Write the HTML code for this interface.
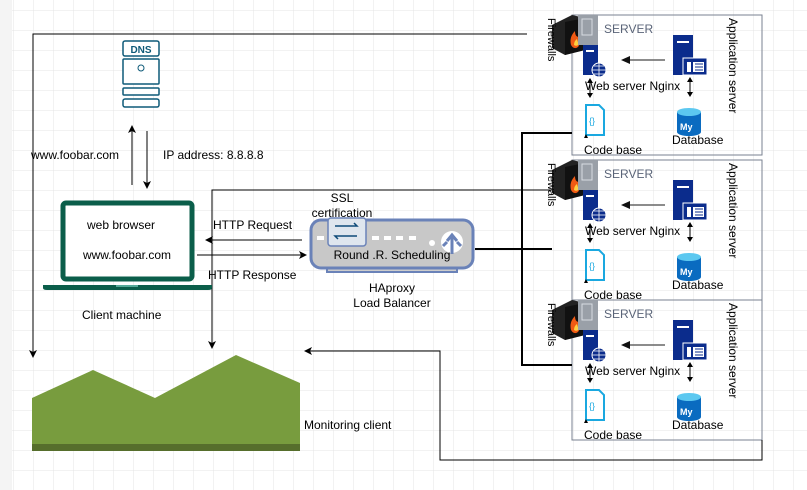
<!DOCTYPE html>
<html><head><meta charset="utf-8"><style>
html,body{margin:0;padding:0;background:#fff;}
svg{display:block;font-family:"Liberation Sans",sans-serif;}
</style></head><body>
<svg width="807" height="490" viewBox="0 0 807 490" xmlns="http://www.w3.org/2000/svg">
<defs>
<pattern id="grid" x="13" y="10" width="20" height="20" patternUnits="userSpaceOnUse">
<path d="M0 0H20M0 0V20" stroke="#e4e4e4" stroke-width="1" fill="none"/>
</pattern>
<marker id="ah" markerWidth="8" markerHeight="8" refX="7" refY="4" orient="auto" markerUnits="userSpaceOnUse">
<path d="M0 0L8 4L0 8L2 4Z" fill="#000"/>
</marker>
<marker id="ah2" markerWidth="8" markerHeight="8" refX="7" refY="4" orient="auto" markerUnits="userSpaceOnUse">
<path d="M0 0L8 4L0 8L2 4Z" fill="#222"/>
</marker>
<g id="srv">
<rect x="572" y="15" width="190" height="140" fill="none" stroke="#7a8290" stroke-width="1"/>
<!-- firewall -->
<path d="M552 25L572 15L585 18L585 50L565 55L552 48Z" fill="#222"/>
<path d="M565 22L585 18L585 50L565 55Z" fill="#111"/>
<path d="M571 45q-2-8 4-14q0 6 4 6q3 5-1 10q-4 3-7-2z" fill="#f05a14"/>
<path d="M574 45q0-4 3-6q1 4 2 5q-2 3-5 1z" fill="#ffd040"/>
<rect x="578" y="15" width="20" height="30" fill="#9aa0a8"/>
<rect x="582" y="19" width="10" height="16" fill="none" stroke="#d8dde2"/>
<text x="604" y="33" font-size="12" fill="#5a6478">SERVER</text>
<!-- web server icon -->
<rect x="583" y="45" width="15" height="30" fill="#0b2c8c"/>
<rect x="586" y="50" width="8" height="2" fill="#fff"/>
<circle cx="599" cy="70" r="7" fill="#0b2c8c" stroke="#fff" stroke-width="1"/>
<path d="M592 70h14M599 63v14M594 66h10M594 74h10" stroke="#fff" stroke-width="0.8"/>
<!-- arrow app->web -->
<line x1="665" y1="60" x2="626" y2="60" stroke="#666" stroke-width="1.5"/>
<path d="M621 60L630 56L630 64Z" fill="#111"/>
<!-- app server icon -->
<rect x="673" y="35" width="20" height="40" fill="#0b2c8c"/>
<rect x="677" y="41" width="12" height="2" fill="#fff"/>
<rect x="683" y="58" width="24" height="17" fill="#0b2c8c" stroke="#fff" stroke-width="1"/>
<rect x="687" y="62" width="4" height="10" fill="#fff"/><rect x="693" y="62" width="11" height="10" fill="#fff"/>
<path d="M695 64h8M695 67h8M695 70h8" stroke="#0b2c8c"/>
<text x="585" y="90" font-size="12" fill="#000">Web server Nginx</text>
<!-- double arrows -->
<path d="M590 79v18" stroke="#000"/><path d="M587 83l3-5 3 5zM587 93l3 5 3-5z" fill="#000"/>
<path d="M690 78v18" stroke="#000"/><path d="M687 82l3-5 3 5zM687 92l3 5 3-5z" fill="#000"/>
<!-- code base -->
<path d="M586 105h13l5 5v25h-18z" fill="#fff" stroke="#1aa8e0" stroke-width="2"/>
<text x="589" y="124" font-size="9" fill="#1aa8e0">{}</text>
<path d="M584 138l2-4 2 4z" fill="#000"/>
<text x="584" y="154" font-size="12" fill="#000">Code base</text>
<!-- database -->
<path d="M677 112v20a12 4 0 0 0 24 0v-20z" fill="#0a6bc0"/>
<ellipse cx="689" cy="112" rx="12" ry="4" fill="#5cc8f0"/>
<text x="680" y="130" font-size="9" font-weight="bold" fill="#fff">My</text>
<text x="672" y="144" font-size="12" fill="#000">Database</text>
<text transform="translate(548,18) rotate(90)" font-size="11" fill="#000">Firewalls</text>
<text transform="translate(729,18) rotate(90)" font-size="12" fill="#000">Application server</text>
</g>
</defs>
<rect x="0" y="0" width="807" height="490" fill="#fff"/>
<rect x="0" y="0" width="12" height="490" fill="#f4f4f4"/>
<rect x="12" y="0" width="795" height="490" fill="url(#grid)"/>

<!-- servers -->
<use href="#srv"/>
<use href="#srv" transform="translate(0,145)"/>
<use href="#srv" transform="translate(0,285)"/>

<!-- LB connection lines -->
<path d="M572 133H522V365H572" fill="none" stroke="#000" stroke-width="2"/>
<path d="M475 249H552" fill="none" stroke="#000" stroke-width="2"/>

<!-- left long lines -->
<path d="M527 34H33V357" fill="none" stroke="#000" stroke-width="1" marker-end="url(#ah)"/>
<path d="M552 190H212V348" fill="none" stroke="#000" stroke-width="1" marker-end="url(#ah)"/>
<path d="M762 440V460H440V351H305" fill="none" stroke="#000" stroke-width="1" marker-end="url(#ah)"/>

<!-- DNS -->
<rect x="123" y="41" width="36" height="15" rx="2" fill="#fff" stroke="#0e5a78" stroke-width="1.5"/>
<text x="141" y="53" font-size="10" font-weight="bold" fill="#0e5a78" text-anchor="middle">DNS</text>
<rect x="123" y="59" width="36" height="25" rx="1" fill="#fff" stroke="#0e5a78" stroke-width="1.5"/>
<circle cx="141" cy="68" r="3" fill="none" stroke="#0e5a78"/>
<rect x="123" y="88" width="36" height="7" rx="1" fill="#fff" stroke="#0e5a78" stroke-width="1.5"/>
<rect x="123" y="99" width="36" height="8" rx="2" fill="#fff" stroke="#0e5a78" stroke-width="1.5"/>
<!-- DNS arrows -->
<path d="M132 185V126" stroke="#000" marker-end="url(#ah)"/>
<path d="M147 131V188" stroke="#000" marker-end="url(#ah)"/>
<text x="31" y="159" font-size="12" fill="#000">www.foobar.com</text>
<text x="163" y="159" font-size="12" fill="#000">IP address: 8.8.8.8</text>

<!-- laptop -->
<rect x="63" y="203" width="129" height="76" rx="3" fill="#fff" stroke="#0b5e4a" stroke-width="5"/>
<path d="M43 285H212V288Q212 290 208 290H47Q43 290 43 288Z" fill="#0b5e4a"/>
<rect x="116" y="285" width="22" height="2" fill="#5a9"/>
<text x="121" y="229" font-size="12" fill="#000" text-anchor="middle">web browser</text>
<text x="127" y="259" font-size="12" fill="#000" text-anchor="middle">www.foobar.com</text>
<text x="82" y="319" font-size="12" fill="#000">Client machine</text>

<!-- HTTP arrows -->
<path d="M302 240H206" stroke="#000" marker-end="url(#ah)"/>
<path d="M197 255H306" stroke="#000" marker-end="url(#ah)"/>
<text x="213" y="229" font-size="12" fill="#000">HTTP Request</text>
<text x="208" y="279" font-size="12" fill="#000">HTTP Response</text>

<!-- load balancer -->
<rect x="327" y="255" width="130" height="17" fill="#ccc" stroke="#6a82b8" stroke-width="2"/>
<rect x="311" y="220" width="162" height="48" rx="10" fill="#c8c8c8" stroke="#6a82b8" stroke-width="3"/>
<rect x="328" y="218" width="38" height="28" rx="3" fill="#dfe6ee" stroke="#6a82b8" stroke-width="1.5"/>
<path d="M335 226h22l-3-3M357 236h-22l3 3" fill="none" stroke="#0e4a78" stroke-width="1.5"/>
<g fill="#fff"><rect x="317" y="236" width="7" height="4"/><rect x="372" y="236" width="7" height="4"/><rect x="384" y="236" width="7" height="4"/><rect x="396" y="236" width="7" height="4"/><rect x="409" y="236" width="7" height="4"/><circle cx="432" cy="243" r="3"/></g>
<circle cx="452" cy="242" r="11" fill="#fff"/>
<path d="M452 254V236M447 241l5-6 5 6M443 246l4-4M461 246l-4-4" stroke="#6a82b8" stroke-width="3" fill="none"/>
<text x="392" y="259" font-size="12" fill="#000" text-anchor="middle">Round .R. Scheduling</text>
<text x="342" y="202" font-size="12" fill="#000" text-anchor="middle">SSL</text>
<text x="342" y="217" font-size="12" fill="#000" text-anchor="middle">certification</text>
<text x="392" y="292" font-size="12" fill="#000" text-anchor="middle">HAproxy</text>
<text x="392" y="307" font-size="12" fill="#000" text-anchor="middle">Load Balancer</text>

<!-- monitoring -->
<path d="M32 398L93 370L155 398L236 355L300 383V450H32Z" fill="#789c3e"/>
<rect x="32" y="444" width="268" height="7" fill="#566e2c"/>
<text x="304" y="429" font-size="12" fill="#000">Monitoring client</text>
</svg>
</body></html>
